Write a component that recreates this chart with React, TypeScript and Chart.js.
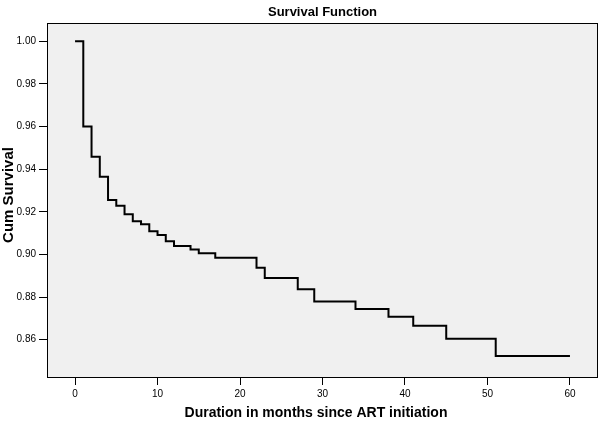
import React, { useEffect, useRef } from "react";
import { Chart, registerables } from "chart.js";

Chart.register(...registerables);

const months = [0, 1, 2, 3, 4, 5, 6, 7, 8, 9, 10, 11, 12, 14, 15, 17, 22, 23, 27, 29, 34, 38, 41, 45, 51, 60];
const cumSurvival = [
  1.0, 0.96, 0.9458, 0.9364, 0.9255, 0.9228, 0.9188, 0.9156, 0.9141, 0.9109, 0.9091, 0.9062, 0.904,
  0.9023, 0.9005, 0.8984, 0.8937, 0.8889, 0.8836, 0.8779, 0.8744, 0.8707, 0.8665, 0.8604, 0.8523, 0.8523,
];
const xTickValues = [0, 10, 20, 30, 40, 50, 60];
const yTickValues = [0.86, 0.88, 0.9, 0.92, 0.94, 0.96, 0.98, 1.0];
const chartTitle = "Survival Function";
const xTitle = "Duration in months since ART initiation";
const yTitle = "Cum Survival";

const FONT = "Arial, 'Liberation Sans', sans-serif";

const plotFrame = {
  id: "plotFrame",
  beforeDraw(chart: any) {
    const { ctx, chartArea: a, width, height } = chart;
    ctx.save();
    ctx.fillStyle = "#ffffff";
    ctx.fillRect(0, 0, width, height);
    ctx.fillStyle = "#f0f0f0";
    ctx.fillRect(a.left, a.top, a.right - a.left, a.bottom - a.top);
    ctx.restore();
  },
  afterDraw(chart: any) {
    const { ctx, chartArea: a } = chart;
    ctx.save();
    ctx.strokeStyle = "#000";
    ctx.lineWidth = 1;
    const l = Math.round(a.left) + 0.5;
    const t = Math.round(a.top) + 0.5;
    const r = Math.round(a.right) - 0.5;
    const b = Math.round(a.bottom) - 0.5;
    ctx.strokeRect(l, t, r - l, b - t);
    // axis titles
    ctx.fillStyle = "#000";
    ctx.textAlign = "center";
    ctx.textBaseline = "middle";
    ctx.font = `bold 14px ${FONT}`;
    ctx.fillText(xTitle, 316, 413);
    ctx.translate(9, 195);
    ctx.rotate(-Math.PI / 2);
    ctx.font = `bold 15px ${FONT}`;
    ctx.fillText(yTitle, 0, 0);
    ctx.restore();
  },
};

export default function App() {
  const ref = useRef<HTMLCanvasElement | null>(null);
  useEffect(() => {
    document.body.style.margin = "0";
    const canvas = ref.current!;
    const chart = new Chart(canvas, {
      type: "line",
      data: {
        datasets: [
          {
            data: months.map((m, i) => ({ x: m, y: cumSurvival[i] })),
            borderColor: "#000",
            borderWidth: 2,
            pointRadius: 0,
            stepped: "before",
            fill: false,
          },
        ],
      },
      options: {
        responsive: false,
        animation: false,
        devicePixelRatio: 1,
        layout: { padding: { left: 0, right: 3, top: 0, bottom: 0 } },
        plugins: {
          legend: { display: false },
          tooltip: { enabled: false },
          title: {
            display: true,
            fullSize: false,
            text: chartTitle,
            color: "#000",
            font: { family: FONT, size: 13, weight: "bold" },
            padding: { top: 5, bottom: 2.4 },
          },
        },
        scales: {
          x: {
            type: "linear",
            min: -3.4,
            max: 63.4,
            afterBuildTicks: (s: any) => {
              s.ticks = xTickValues.map((v) => ({ value: v }));
            },
            afterFit: (s: any) => {
              s.height = 46;
            },
            ticks: {
              color: "#000",
              font: { family: FONT, size: 10 },
              padding: 3,
              maxRotation: 0,
              callback: (v: any) => String(v),
            },
            grid: { display: true, drawOnChartArea: false, drawTicks: true, tickLength: 7, color: "#000" },
            border: { display: false },
            title: { display: false },
          },
          y: {
            type: "linear",
            min: 0.842,
            max: 1.0086,
            afterBuildTicks: (s: any) => {
              s.ticks = yTickValues.map((v) => ({ value: v }));
            },
            afterFit: (s: any) => {
              s.width = 47;
            },
            ticks: {
              color: "#000",
              font: { family: FONT, size: 10 },
              padding: 3,
              callback: (v: any) => Number(v).toFixed(2),
            },
            grid: { display: true, drawOnChartArea: false, drawTicks: true, tickLength: 8, color: "#000" },
            border: { display: false },
            title: { display: false },
          },
        },
      },
      plugins: [plotFrame],
    });
    return () => chart.destroy();
  }, []);
  return (
    <div style={{ width: 601, height: 424 }}>
      <canvas ref={ref} width={601} height={424} style={{ display: "block" }} />
    </div>
  );
}
